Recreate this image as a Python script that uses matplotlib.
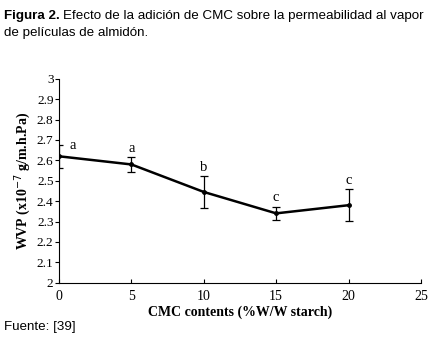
import matplotlib as mpl
mpl.use('Agg')
import matplotlib.pyplot as plt

# data
cmc = [0, 5, 10, 15, 20]
wvp = [2.62, 2.58, 2.445, 2.34, 2.38]
err = [0.055, 0.035, 0.077, 0.033, 0.078]
letters = ['a', 'a', 'b', 'c', 'c']
xticks = [0, 5, 10, 15, 20, 25]
yticks = [2, 2.1, 2.2, 2.3, 2.4, 2.5, 2.6, 2.7, 2.8, 2.9, 3]

sans = 'Liberation Sans'
serif = 'Liberation Serif'

fig = plt.figure(figsize=(4.44, 3.52), dpi=100)
ax = fig.add_axes([0.133, 0.197, 0.815, 0.579])

ax.errorbar(cmc, wvp, yerr=err, color='black', lw=1.8, marker='o', ms=2.5,
            elinewidth=0.9, capsize=3, capthick=0.9)

for x, y, e, t in zip(cmc, wvp, err, letters):
    if x == 0:
        ax.text(x + 0.7, y + e + 0.0, t, fontsize=10.5, family=serif, ha='left', va='center')
    else:
        ax.text(x, y + e + 0.045, t, fontsize=10.5, family=serif, ha='center', va='center')

ax.set_xlim(0, 25)
ax.set_ylim(2, 3)
ax.set_xticks(xticks)
ax.set_yticks(yticks)
ax.set_yticklabels([f'{v:g}' for v in yticks])
ax.spines['top'].set_visible(False)
ax.spines['right'].set_visible(False)
ax.spines['left'].set_linewidth(0.8)
ax.spines['bottom'].set_linewidth(0.8)
ax.tick_params(axis='y', direction='out', length=3, width=0.8, labelsize=9.5, pad=1)
ax.tick_params(axis='x', direction='in', length=3, width=0.8, labelsize=10, pad=5)
for lab in ax.get_xticklabels() + ax.get_yticklabels():
    lab.set_family(serif)

ax.set_xlabel('CMC contents (%W/W starch)', fontsize=10, family=serif,
              fontweight='bold', labelpad=2)
ax.set_ylabel('WVP (x10$^{-7}$ g/m.h.Pa)', fontsize=10, family=serif,
              fontweight='bold', labelpad=3)

# title line 1: bold "Figura 2." followed by normal text
fs = 9.6
t1 = fig.text(0.01, 0.955, 'Figura 2.', fontsize=fs, family=sans,
              fontweight='bold', va='center')
fig.canvas.draw()
bb = t1.get_window_extent()
fig.text((bb.x1 + 3) / fig.bbox.width, 0.955,
         'Efecto de la adición de CMC sobre la permeabilidad al vapor',
         fontsize=fs, family=sans, va='center')
fig.text(0.01, 0.905, 'de películas de almidón.', fontsize=fs, family=sans, va='center')
fig.text(0.01, 0.07, 'Fuente: [39]', fontsize=fs, family=sans, va='center')

plt.savefig('out.png', dpi=100)
